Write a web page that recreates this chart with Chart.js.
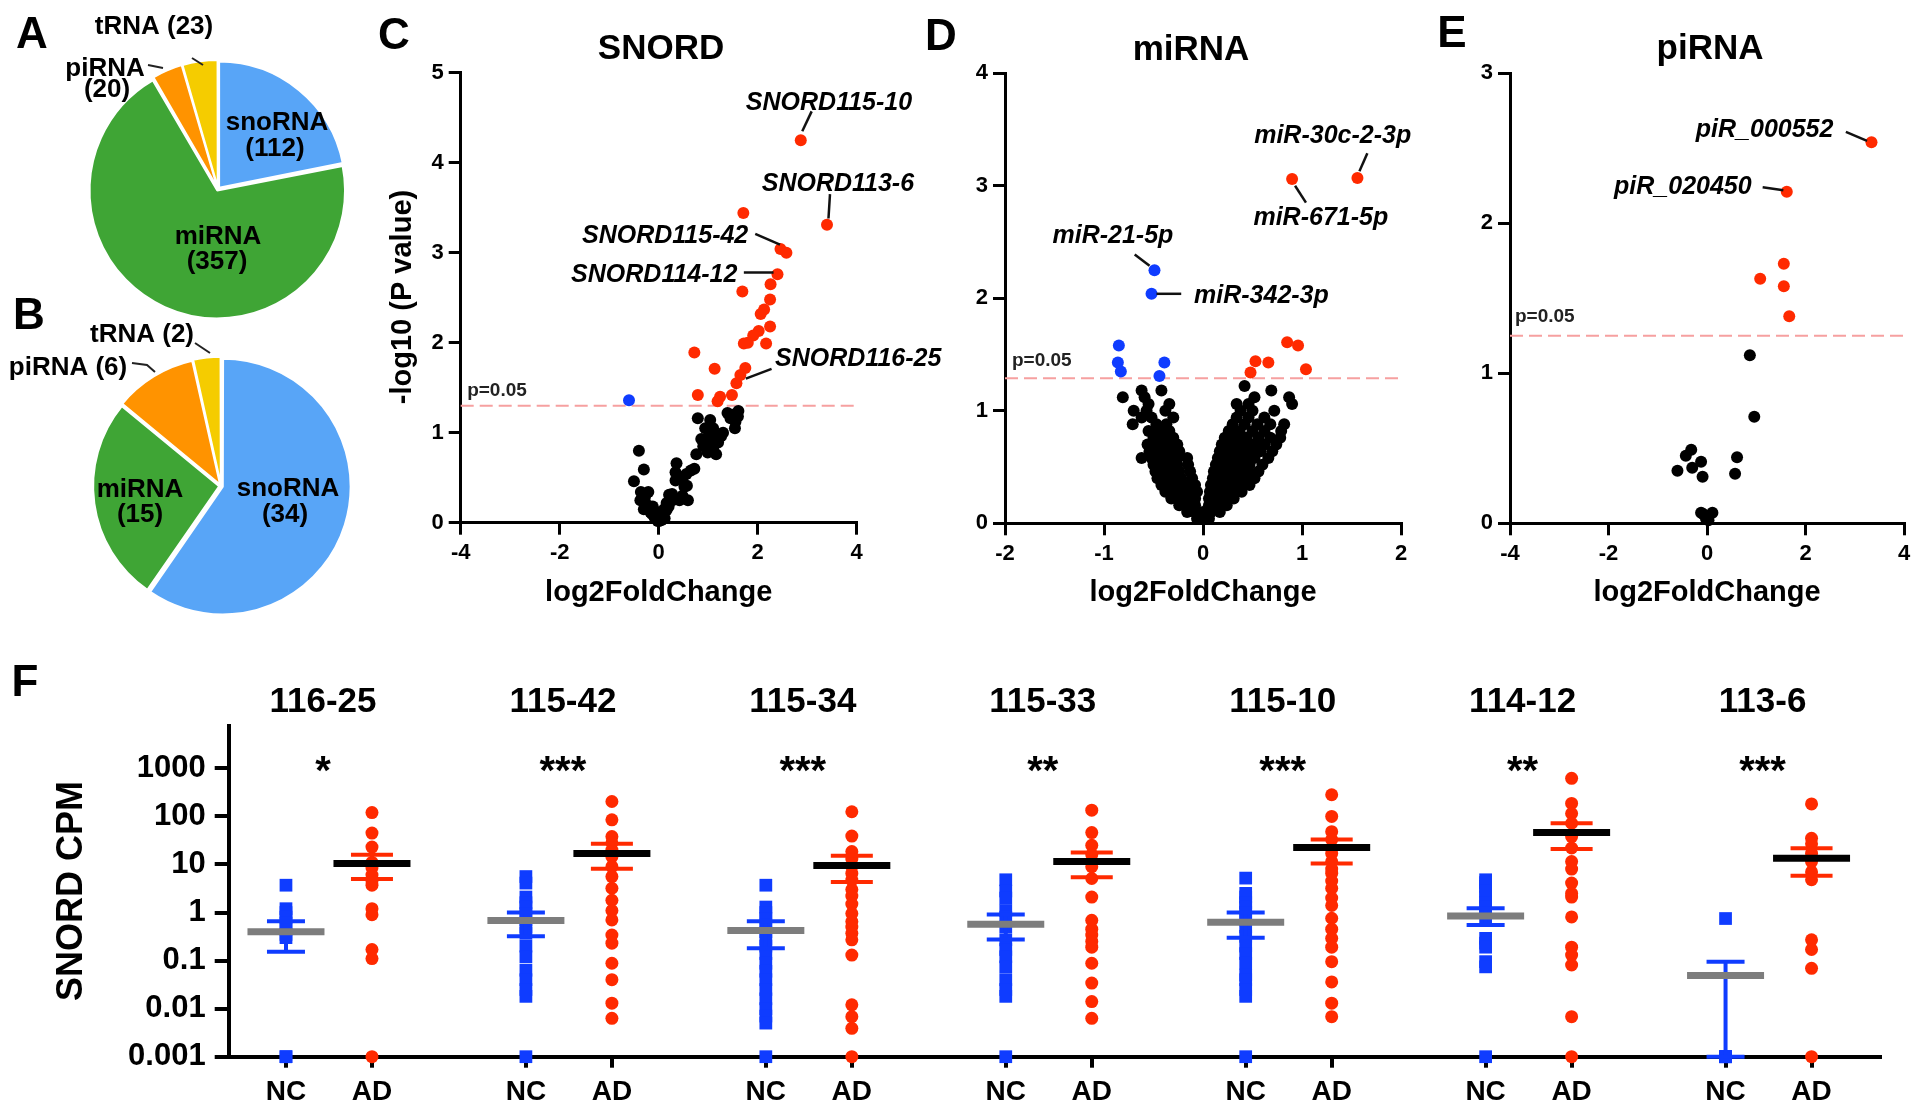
<!DOCTYPE html>
<html>
<head>
<meta charset="utf-8">
<script src="https://cdn.jsdelivr.net/npm/chart.js@4.4.1/dist/chart.umd.min.js"></script>
<style>
html,body{margin:0;padding:0;background:#fff;}
body{width:1920px;height:1114px;position:relative;overflow:hidden;}
canvas{position:absolute;}
</style>
</head>
<body>
<canvas id="pieA"></canvas>
<canvas id="pieB"></canvas>
<canvas id="volC"></canvas>
<canvas id="volD"></canvas>
<canvas id="volE"></canvas>
<canvas id="dotF"></canvas>
<script>
// ================= DATA =================
const pieCategories = ['snoRNA', 'miRNA', 'piRNA', 'tRNA'];
const pieACounts = [112, 357, 20, 23];
const pieBCounts = [34, 15, 6, 2];

// Panel C (SNORD) : [log2FoldChange, -log10 P]
const snordUp = [[2.87,4.25],[3.40,3.31],[1.71,3.44],[2.46,3.04],[2.58,3.00],[2.40,2.76],[1.69,2.57],[2.26,2.65],
  [2.25,2.48],[2.13,2.37],[2.06,2.32],[2.25,2.18],[2.02,2.13],[1.91,2.08],[1.80,2.00],[2.17,1.99],[1.72,1.99],
  [0.72,1.89],[1.75,1.72],[1.13,1.71],[1.65,1.64],[1.57,1.55],[0.79,1.42],[1.24,1.40],[1.48,1.42],[1.19,1.35]];
const snordDown = [[-0.60,1.36]];
const snordNS = [[-0.40,0.80],[-0.30,0.59],[-0.50,0.46],[-0.36,0.34],[-0.21,0.34],[-0.37,0.25],[-0.24,0.20],
  [-0.30,0.15],[-0.17,0.12],[-0.09,0.07],[-0.02,0.02],[0.04,0.08],[0.11,0.15],[0.16,0.22],[0.21,0.31],[0.28,0.25],
  [0.34,0.47],[0.36,0.66],[0.49,0.51],[0.52,0.40],[0.42,0.25],[0.59,0.25],[0.56,0.54],[0.72,0.60],[0.76,0.76],
  [0.86,0.93],[1.03,0.99],[0.99,0.78],[1.16,0.76],[1.20,0.89],[1.26,0.96],[1.10,1.05],[0.79,1.16],[1.04,1.14],
  [0.94,1.05],[1.18,0.93],[1.39,1.22],[1.50,1.20],[1.61,1.24],[1.54,1.05],[1.45,1.16],[0.34,0.56],[0.57,0.41],
  [0.27,0.32],[-0.25,0.16],[-0.14,0.10],[-0.07,0.05],[0.01,0.02],[0.08,0.07],[0.16,0.14],[-0.28,0.28],[-0.12,0.18],
  [0.00,0.10],[0.06,0.03],[-0.05,0.12],[0.12,0.05],[0.20,0.18],[0.90,0.85],[1.00,0.90],[1.10,0.82],[1.30,1.00],
  [1.55,1.12],[1.60,1.18],[0.65,0.58],[0.48,0.30],[1.12,0.97]];
const snordXTicks = [-4, -2, 0, 2, 4];
const snordYTicks = [0, 1, 2, 3, 4, 5];

// Panel D (miRNA)
const mirnaUp = [[1.56,3.07],[0.90,3.06],[0.85,1.61],[0.96,1.58],[1.04,1.37],[0.53,1.44],[0.66,1.43],[0.48,1.34]];
const mirnaDown = [[-0.49,2.25],[-0.52,2.04],[-0.85,1.58],[-0.86,1.43],[-0.83,1.35],[-0.39,1.43],[-0.44,1.31]];
const mirnaNS = [
  [-0.06,0.04],[0,0.04],[0.06,0.04],
  [-0.16,0.10],[-0.08,0.10],[0,0.10],[0.08,0.10],[0.17,0.10],
  [-0.24,0.16],[-0.16,0.16],[-0.08,0.16],[0.06,0.16],[0.14,0.16],[0.24,0.16],
  [-0.32,0.22],[-0.24,0.22],[-0.16,0.22],[-0.08,0.22],[0.06,0.22],[0.14,0.22],[0.22,0.22],[0.31,0.22],
  [-0.38,0.28],[-0.30,0.28],[-0.22,0.28],[-0.14,0.28],[-0.06,0.28],[0.07,0.28],[0.15,0.28],[0.23,0.28],[0.31,0.28],[0.39,0.28],
  [-0.42,0.34],[-0.34,0.34],[-0.26,0.34],[-0.18,0.34],[-0.08,0.34],[0.08,0.34],[0.16,0.34],[0.24,0.34],[0.32,0.34],[0.40,0.34],[0.47,0.34],
  [-0.46,0.40],[-0.38,0.40],[-0.30,0.40],[-0.22,0.40],[-0.11,0.40],[0.10,0.40],[0.18,0.40],[0.26,0.40],[0.34,0.40],[0.42,0.40],[0.52,0.40],
  [-0.48,0.46],[-0.40,0.46],[-0.32,0.46],[-0.24,0.46],[-0.13,0.46],[0.11,0.46],[0.19,0.46],[0.27,0.46],[0.35,0.46],[0.45,0.46],[0.56,0.46],
  [-0.50,0.52],[-0.42,0.52],[-0.34,0.52],[-0.26,0.52],[-0.15,0.52],[0.13,0.52],[0.21,0.52],[0.29,0.52],[0.37,0.52],[0.47,0.52],[0.60,0.52],
  [-0.62,0.58],[-0.52,0.58],[-0.44,0.58],[-0.36,0.58],[-0.26,0.58],[-0.16,0.58],[0.15,0.58],[0.23,0.58],[0.31,0.58],[0.41,0.58],[0.52,0.58],[0.66,0.58],
  [-0.54,0.64],[-0.44,0.64],[-0.34,0.64],[-0.24,0.64],[0.17,0.64],[0.26,0.64],[0.36,0.64],[0.47,0.64],[0.58,0.64],[0.70,0.64],
  [-0.56,0.70],[-0.46,0.70],[-0.36,0.70],[-0.26,0.70],[0.19,0.70],[0.29,0.70],[0.40,0.70],[0.51,0.70],[0.62,0.70],[0.74,0.70],
  [-0.50,0.76],[-0.40,0.76],[-0.30,0.76],[0.22,0.76],[0.33,0.76],[0.44,0.76],[0.56,0.76],[0.68,0.76],[0.78,0.76],
  [-0.55,0.82],[-0.44,0.82],[-0.34,0.82],[0.26,0.82],[0.37,0.82],[0.50,0.82],[0.62,0.82],[0.79,0.82],
  [-0.71,0.88],[-0.47,0.88],[-0.37,0.88],[0.30,0.88],[0.42,0.88],[0.55,0.88],[0.68,0.88],[0.82,0.88],
  [-0.62,0.94],[-0.52,0.94],[-0.30,0.94],[0.34,0.94],[0.46,0.94],[0.62,0.94],
  [-0.70,1.00],[-0.57,1.00],[-0.38,1.00],[0.38,1.00],[0.50,1.00],[0.72,1.00],
  [-0.55,1.06],[-0.34,1.06],[0.34,1.06],[0.46,1.06],[0.90,1.06],
  [-0.81,1.12],[-0.59,1.12],[0.52,1.12],[0.87,1.12],
  [-0.62,1.18],[-0.42,1.18],[0.69,1.18],[0.42,1.22]];
const mirnaXTicks = [-2, -1, 0, 1, 2];
const mirnaYTicks = [0, 1, 2, 3, 4];

// Panel E (piRNA)
const pirnaUp = [[3.34,2.54],[1.62,2.21],[1.56,1.73],[1.08,1.63],[1.56,1.58],[1.67,1.38]];
const pirnaNS = [[0.87,1.12],[0.96,0.71],[0.61,0.44],[0.57,0.33],[-0.32,0.49],[-0.43,0.45],[-0.12,0.41],
  [-0.30,0.37],[-0.60,0.35],[-0.09,0.31],[-0.12,0.07],[0.11,0.07],[-0.02,0.03],[-0.07,0.06],[0.03,0.02]];
const pirnaXTicks = [-4, -2, 0, 2, 4];
const pirnaYTicks = [0, 1, 2, 3];

const pLineC = 1.30, pLineD = 1.29, pLineE = 1.25;

// Panel F (SNORD CPM)
const snordGroups = ['116-25', '115-42', '115-34', '115-33', '115-10', '114-12', '113-6'];
const snordStars = ['*', '***', '***', '**', '***', '**', '***'];
const pairLabels = ['NC', 'AD'];
const ncCPM = [
  [3.7,1.2,1.0,0.8,0.6,0.45,0.35,0.3,0,0],
  [5.6,4.1,2.1,1.6,1.3,0.95,0.7,0.5,0.37,0.2,0.12,0.063,0.04,0.025,0.018,0],
  [3.7,1.3,1.0,0.75,0.55,0.4,0.28,0.2,0.14,0.088,0.06,0.04,0.025,0.016,0.01,0.007,0.005,0],
  [4.8,2.8,2.0,1.1,0.8,0.5,0.27,0.17,0.12,0.074,0.04,0.025,0.018,0],
  [5.2,2.5,2.1,1.6,1.3,1.0,0.7,0.5,0.32,0.2,0.14,0.088,0.05,0.04,0.025,0.018,0],
  [4.8,4.2,3.5,2.8,2.1,1.6,1.3,1.0,0.81,0.29,0.23,0.19,0.095,0.074,0],
  [0.75,0,0,0,0]];
const adCPM = [
  [120,45,23,11,8.5,6,4.5,3.7,1.2,0.9,0.17,0.11,0],
  [204,85,38,28,20,14.5,9,5.6,3.2,1.8,1.1,0.7,0.34,0.23,0.088,0.04,0.013,0.0063],
  [125,39,18.5,13,9,6.5,4.7,3,2.2,1.5,0.95,0.65,0.5,0.37,0.27,0.13,0.012,0.0068,0.0039,0],
  [135,46,25,16,9,5.1,2.1,0.69,0.45,0.34,0.25,0.19,0.088,0.034,0.014,0.0063],
  [282,100,48,33,17,11.5,8,6.6,4.5,3.2,2.0,1.4,0.76,0.45,0.29,0.19,0.095,0.036,0.013,0.0068],
  [620,186,115,72,38,22,11.5,8,4.1,2.5,2.1,0.81,0.19,0.13,0.081,0.0068,0],
  [182,35,27,17,11.5,7,4.8,0.27,0.17,0.069,0]];
const ncMean = [0.40, 0.68, 0.42, 0.57, 0.63, 0.85, 0.049];
const ncSemHigh = [0.66, 1.0, 0.66, 0.91, 1.0, 1.23, 0.095];
const ncSemLow = [0.153, 0.32, 0.18, 0.275, 0.30, 0.55, 0];
const adMean = [10.5, 17, 9.5, 11.5, 22.4, 46.5, 13.4];
const adSemHigh = [16, 27, 15.2, 17.8, 33, 72, 21.7];
const adSemLow = [5.0, 8.1, 4.3, 5.4, 10.5, 21, 5.8];
const cpmTicks = [0.001, 0.01, 0.1, 1, 10, 100, 1000];
const cpmTickLabels = ['0.001', '0.01', '0.1', '1', '10', '100', '1000'];

// ================= STYLE / LAYOUT =================
const FONT = '"Liberation Sans", Arial, Helvetica, sans-serif';
Chart.defaults.font.family = FONT;
Chart.defaults.color = '#000';
const pieColors = ['#58a5f7', '#3fa535', '#ff9300', '#f5cc00'];
const RED = '#ff2a00', BLUE = '#0f3cff', BLACK = '#000';

function txt(ctx, s, x, y, font, align, color) {
  ctx.save();
  ctx.font = font; ctx.fillStyle = color || '#000';
  ctx.textAlign = align || 'center'; ctx.textBaseline = 'alphabetic';
  const m = ctx.measureText(s);
  ctx.fillText(s, x, y + (m.actualBoundingBoxAscent - m.actualBoundingBoxDescent) / 2);
  ctx.restore();
}
function poly(ctx, pts, color, w) {
  ctx.save(); ctx.strokeStyle = color; ctx.lineWidth = w; ctx.lineCap = 'butt';
  ctx.beginPath(); pts.forEach((p, i) => i ? ctx.lineTo(p[0], p[1]) : ctx.moveTo(p[0], p[1]));
  ctx.stroke(); ctx.restore();
}
function place(cv, r) {
  cv.width = r.w; cv.height = r.h;
  cv.style.left = r.left + 'px'; cv.style.top = r.top + 'px';
  cv.style.width = r.w + 'px'; cv.style.height = r.h + 'px';
}

// ---------- Pies ----------
function makePie(id, center, counts, offset, labels, leaders, letter) {
  const S = 440;
  const r = {left: center[0] - S / 2, top: center[1] - S / 2, w: S, h: S};
  const cv = document.getElementById(id); place(cv, r);
  new Chart(cv, {
    type: 'pie',
    data: {labels: pieCategories, datasets: [{data: counts, backgroundColor: pieColors,
      borderColor: '#fff', borderWidth: 2, offset: offset, hoverOffset: 0, radius: 126}]},
    options: {responsive: false, animation: false, events: [], radius: 126,
      layout: {padding: 0}, plugins: {legend: {display: false}, tooltip: {enabled: false}}},
    plugins: [{id: 'pieText', afterDraw(chart) {
      const c = chart.ctx, a = chart.chartArea;
      const cx = (a.left + a.right) / 2, cy = (a.top + a.bottom) / 2;
      labels.forEach(l => txt(c, l[0], cx + l[1], cy + l[2], 'bold 26px ' + FONT));
      leaders.forEach(ld => poly(c, ld.map(p => [cx + p[0], cy + p[1]]), '#222', 2));
      txt(c, letter[0], letter[1] - r.left, letter[2] - r.top, 'bold 44px ' + FONT);
    }}]
  });
}
makePie('pieA', [218, 189], pieACounts, 7,
  [['snoRNA', 59, -68], ['(112)', 57, -40], ['miRNA', 0, 45], ['(357)', -1, 73],
   ['tRNA (23)', -64, -162], ['piRNA', -113, -120], ['(20)', -111, -99]],
  [[[-26, -131], [-15, -124]], [[-70, -124], [-55, -121]]],
  ['A', 32, 32]);
makePie('pieB', [221, 486], pieBCounts, 7.5,
  [['snoRNA', 67, 1], ['(34)', 64, 29], ['miRNA', -81, 1], ['(15)', -81, 29],
   ['tRNA (2)', -79, -151], ['piRNA (6)', -153, -118]],
  [[[-26, -143], [-11, -133]], [[-89, -123], [-74, -121], [-66, -114]]],
  ['B', 29, 313]);

// ---------- Volcano plots ----------
function makeVolcano(id, rect, area, spec) {
  const cv = document.getElementById(id); place(cv, rect);
  const YW = 60, XH = 60;
  const pad = {left: area.left - rect.left - YW, right: rect.left + rect.w - area.right,
               top: area.top - rect.top, bottom: rect.top + rect.h - area.bottom - XH};
  const datasets = spec.series.map(s => ({
    data: s.pts.map(p => ({x: p[0], y: p[1]})), backgroundColor: s.color, borderWidth: 0,
    pointRadius: 6, pointHoverRadius: 6, pointBorderWidth: 0, clip: false}));
  const axisCommon = (ticksArr) => ({
    type: 'linear', min: ticksArr[0], max: ticksArr[ticksArr.length - 1],
    afterBuildTicks: s => { s.ticks = ticksArr.map(v => ({value: v})); },
    ticks: {font: {family: FONT, size: 22, weight: 'bold'}, color: '#000', padding: 5, autoSkip: false, maxRotation: 0},
    grid: {display: true, drawOnChartArea: false, drawTicks: true, tickLength: 12, tickWidth: 3,
           tickColor: '#000', color: '#000', lineWidth: 3},
    border: {display: true, color: '#000', width: 3}
  });
  const xs = axisCommon(spec.xTicks); xs.afterFit = s => { s.height = XH; };
  const ys = axisCommon(spec.yTicks); ys.afterFit = s => { s.width = YW; }; ys.ticks.padding = 5;
  const ox = rect.left, oy = rect.top;
  new Chart(cv, {
    type: 'scatter', data: {datasets},
    options: {responsive: false, animation: false, events: [], layout: {padding: pad},
      plugins: {legend: {display: false}, tooltip: {enabled: false}},
      scales: {x: xs, y: ys}},
    plugins: [{id: 'volExtras',
      beforeDatasetsDraw(chart) {
        const c = chart.ctx, X = chart.scales.x, Y = chart.scales.y;
        const yy = Y.getPixelForValue(spec.pLine);
        c.save(); c.strokeStyle = '#f6a0a0'; c.lineWidth = 2; c.setLineDash([13, 6]);
        c.beginPath(); c.moveTo(X.left, yy); c.lineTo(X.right, yy); c.stroke(); c.restore();
        txt(c, 'p=0.05', X.getPixelForValue(spec.pLabel[0]), Y.getPixelForValue(spec.pLabel[1]),
            'bold 19px ' + FONT, 'left', '#222');
      },
      afterDraw(chart) {
        const c = chart.ctx, X = chart.scales.x, Y = chart.scales.y;
        const P = (p) => [X.getPixelForValue(p[0]), Y.getPixelForValue(p[1])];
        spec.notes.forEach(n => {
          const t = P(n.at);
          txt(c, n.text, t[0], t[1], 'italic bold 25px ' + FONT);
          poly(c, n.line.map(P), '#111', 2.5);
        });
        txt(c, spec.title[0], spec.title[1] - ox, spec.title[2] - oy, 'bold 35px ' + FONT);
        txt(c, 'log2FoldChange', (X.left + X.right) / 2, spec.xTitleY - oy, 'bold 29px ' + FONT);
        if (spec.yTitle) {
          c.save(); c.translate(spec.yTitle[1] - ox, spec.yTitle[2] - oy); c.rotate(-Math.PI / 2);
          txt(c, spec.yTitle[0], 0, 0, 'bold 29px ' + FONT); c.restore();
        }
        txt(c, spec.letter[0], spec.letter[1] - ox, spec.letter[2] - oy, 'bold 44px ' + FONT);
      }}]
  });
}

makeVolcano('volC', {left: 360, top: 0, w: 600, h: 640},
  {left: 460.7, right: 856.7, top: 72.7, bottom: 522.7}, {
  series: [{pts: snordNS, color: BLACK}, {pts: snordUp, color: RED}, {pts: snordDown, color: BLUE}],
  xTicks: snordXTicks, yTicks: snordYTicks, pLine: pLineC, pLabel: [-3.87, 1.46],
  notes: [
    {text: 'SNORD115-10', at: [3.44, 4.69], line: [[3.09, 4.57], [2.90, 4.35]]},
    {text: 'SNORD113-6', at: [3.62, 3.79], line: [[3.46, 3.65], [3.43, 3.38]]},
    {text: 'SNORD115-42', at: [0.13, 3.21], line: [[1.95, 3.21], [2.45, 3.09]]},
    {text: 'SNORD114-12', at: [-0.09, 2.78], line: [[1.72, 2.78], [2.32, 2.78]]},
    {text: 'SNORD116-25', at: [4.03, 1.84], line: [[2.28, 1.71], [1.76, 1.60]]}],
  title: ['SNORD', 661, 46.6], xTitleY: 593, yTitle: ['-log10 (P value)', 403, 297],
  letter: ['C', 394, 33]
});
makeVolcano('volD', {left: 910, top: 0, w: 530, h: 640},
  {left: 1005, right: 1401, top: 73.3, bottom: 523.3}, {
  series: [{pts: mirnaNS, color: BLACK}, {pts: mirnaUp, color: RED}, {pts: mirnaDown, color: BLUE}],
  xTicks: mirnaXTicks, yTicks: mirnaYTicks, pLine: pLineD, pLabel: [-1.93, 1.44],
  notes: [
    {text: 'miR-30c-2-3p', at: [1.31, 3.44], line: [[1.66, 3.29], [1.58, 3.13]]},
    {text: 'miR-671-5p', at: [1.19, 2.71], line: [[1.04, 2.85], [0.93, 3.00]]},
    {text: 'miR-21-5p', at: [-0.91, 2.55], line: [[-0.69, 2.39], [-0.54, 2.29]]},
    {text: 'miR-342-3p', at: [0.59, 2.02], line: [[-0.47, 2.04], [-0.22, 2.04]]}],
  title: ['miRNA', 1191, 46.6], xTitleY: 593, yTitle: null,
  letter: ['D', 941, 34]
});
makeVolcano('volE', {left: 1420, top: 0, w: 500, h: 640},
  {left: 1510, right: 1904, top: 73.3, bottom: 523.3}, {
  series: [{pts: pirnaNS, color: BLACK}, {pts: pirnaUp, color: RED}],
  xTicks: pirnaXTicks, yTicks: pirnaYTicks, pLine: pLineE, pLabel: [-3.9, 1.37],
  notes: [
    {text: 'piR_000552', at: [1.17, 2.62], line: [[2.82, 2.61], [3.25, 2.55]]},
    {text: 'piR_020450', at: [-0.49, 2.24], line: [[1.13, 2.24], [1.55, 2.22]]}],
  title: ['piRNA', 1710, 49], xTitleY: 593, yTitle: null,
  letter: ['E', 1452, 31]
});

// ---------- Panel F ----------
(function () {
  const rect = {left: 0, top: 640, w: 1920, h: 474};
  const area = {left: 228.7, right: 1880, top: 726, bottom: 1056.7};
  const YW = 120, XH = 57;
  const cv = document.getElementById('dotF'); place(cv, rect);
  const step = 2.79, gap = 1;
  const xMin = -0.666, xMax = 18.536;
  const yMin = cpmTicks[0], yMax = 7600;
  const pos = []; const posLabels = [];
  snordGroups.forEach((g, i) => { pos.push(i * step); posLabels.push(pairLabels[0]);
                                  pos.push(i * step + gap); posLabels.push(pairLabels[1]); });
  const floor = v => Math.max(v, yMin);
  const datasets = [];
  snordGroups.forEach((g, i) => {
    datasets.push({data: ncCPM[i].map(v => ({x: i * step, y: floor(v)})), pointStyle: 'rect',
      pointRadius: 9, pointHoverRadius: 9, backgroundColor: BLUE, borderWidth: 0, pointBorderWidth: 0, clip: false});
    datasets.push({data: adCPM[i].map(v => ({x: i * step + gap, y: floor(v)})), pointStyle: 'circle',
      pointRadius: 6.5, pointHoverRadius: 6.5, backgroundColor: RED, borderWidth: 0, pointBorderWidth: 0, clip: false});
  });
  const pad = {left: area.left - rect.left - YW, right: rect.left + rect.w - area.right,
               top: area.top - rect.top, bottom: rect.top + rect.h - area.bottom - XH};
  new Chart(cv, {
    type: 'scatter', data: {datasets},
    options: {responsive: false, animation: false, events: [], layout: {padding: pad},
      plugins: {legend: {display: false}, tooltip: {enabled: false}},
      scales: {
        x: {type: 'linear', min: xMin, max: xMax,
          afterBuildTicks: s => { s.ticks = pos.map(v => ({value: v})); },
          afterFit: s => { s.height = XH; },
          ticks: {font: {family: FONT, size: 28, weight: 'bold'}, color: '#000', padding: 8, autoSkip: false, maxRotation: 0,
                  callback: (v, i) => posLabels[i]},
          grid: {display: true, drawOnChartArea: false, drawTicks: true, tickLength: 11, tickWidth: 4,
                 tickColor: '#000', color: '#000', lineWidth: 4},
          border: {display: true, color: '#000', width: 4}},
        y: {type: 'logarithmic', min: yMin, max: yMax,
          afterBuildTicks: s => { s.ticks = cpmTicks.map(v => ({value: v})); },
          afterFit: s => { s.width = YW; },
          ticks: {font: {family: FONT, size: 31, weight: 'bold'}, color: '#000', padding: 9, autoSkip: false,
                  callback: (v, i) => cpmTickLabels[i]},
          grid: {display: true, drawOnChartArea: false, drawTicks: true, tickLength: 14, tickWidth: 4,
                 tickColor: '#000', color: '#000', lineWidth: 4},
          border: {display: true, color: '#000', width: 4}}
      }},
    plugins: [{id: 'fExtras', afterDatasetsDraw(chart) {
      const c = chart.ctx, X = chart.scales.x, Y = chart.scales.y;
      const yp = v => Y.getPixelForValue(floor(v));
      snordGroups.forEach((g, i) => {
        const bars = [
          {x: X.getPixelForValue(i * step), m: ncMean[i], hi: ncSemHigh[i], lo: ncSemLow[i], ec: BLUE, mc: '#7d7d7d', cap: 38},
          {x: X.getPixelForValue(i * step + gap), m: adMean[i], hi: adSemHigh[i], lo: adSemLow[i], ec: RED, mc: '#000', cap: 42}];
        bars.forEach(b => {
          poly(c, [[b.x, yp(b.hi)], [b.x, yp(b.lo)]], b.ec, 4);
          poly(c, [[b.x - b.cap / 2, yp(b.hi)], [b.x + b.cap / 2, yp(b.hi)]], b.ec, 4);
          poly(c, [[b.x - b.cap / 2, yp(b.lo)], [b.x + b.cap / 2, yp(b.lo)]], b.ec, 4);
          poly(c, [[b.x - 38.5, yp(b.m)], [b.x + 38.5, yp(b.m)]], b.mc, 7);
        });
        const mid = (X.getPixelForValue(i * step) + X.getPixelForValue(i * step + gap)) / 2 - 6;
        txt(c, g, mid, 700 - rect.top, 'bold 35px ' + FONT);
        txt(c, snordStars[i], mid, 764 - rect.top, 'bold 40px ' + FONT);
      });
    },
    afterDraw(chart) {
      const c = chart.ctx;
      c.save(); c.translate(69, 891 - rect.top); c.rotate(-Math.PI / 2);
      txt(c, 'SNORD CPM', 0, 0, 'bold 36px ' + FONT); c.restore();
      txt(c, 'F', 25, 680 - rect.top, 'bold 44px ' + FONT);
    }}]
  });
})();
</script>
</body>
</html>
